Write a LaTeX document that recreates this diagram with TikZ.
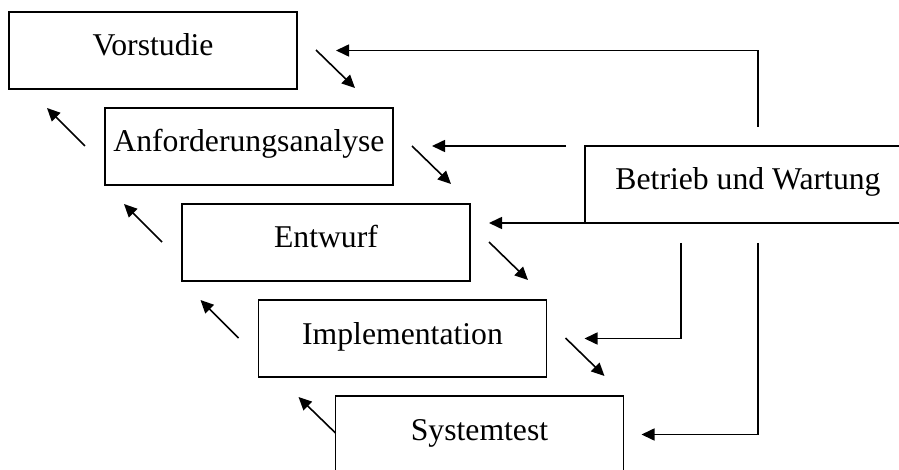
\documentclass[tikz,border=0pt]{standalone}
\usepackage{fontspec}
\setmainfont{Liberation Serif}
\usetikzlibrary{arrows.meta,calc}

\tikzset{
  phase/.style={draw, line width=1.6pt, inner sep=0pt, outer sep=0pt,
    minimum width=288pt, text height=44pt, text depth=33pt,
    font=\fontsize{31.7}{37}\selectfont},
  flow/.style={line width=1.6pt, -{Triangle[length=13pt,width=12pt]}},
}

\begin{document}
\begin{tikzpicture}[x=1pt,y=-1pt]
  \useasboundingbox (0,0) rectangle (899,470);
  \clip (0,0) rectangle (899,470);

  % phases of the waterfall model
  \node[phase] (v) at (153,50.5)   {Vorstudie};
  \node[phase] (a) at (249,146.5)  {Anforderungsanalyse};
  \node[phase] (e) at (326,242.5)  {Entwurf};
  \node[phase] (i) at (402.5,338.5) {Implementation};
  \node[phase] (s) at (479.5,434.5) {Systemtest};
  \node[phase, minimum width=326pt] (b) at (748,184.5) {Betrieb und Wartung};

  % forward steps down the cascade
  \foreach \n in {v,a,e,i}
    \draw[flow] ($(\n.north east)+(19,38)$) -- ($(\n.north east)+(58,76)$);

  % steps back up the cascade
  \foreach \n in {a,e,i}
    \draw[flow] ($(\n.north west)+(-20,38)$) -- ($(\n.north west)+(-58,0)$);
  \draw[flow] ($(s.north west)+(0,37)$) -- ($(s.north west)+(-37,1)$);

  % feedback from operation and maintenance
  \draw[flow] ($(b.north)+(10,-19)$) |- ($(v.east)+(39,0)$);
  \draw[flow] ($(b.north west)+(-19,0)$) -- ($(a.east)+(39,-0.5)$);
  \draw[flow] (b.south west) -- ($(e.north east)+(19,19)$);
  \draw[flow] ($(b.south west)+(96,20)$) |- ($(i.east)+(38,0)$);
  \draw[flow] ($(b.south)+(10,20)$) |- ($(s.east)+(18,0)$);
\end{tikzpicture}
\end{document}
